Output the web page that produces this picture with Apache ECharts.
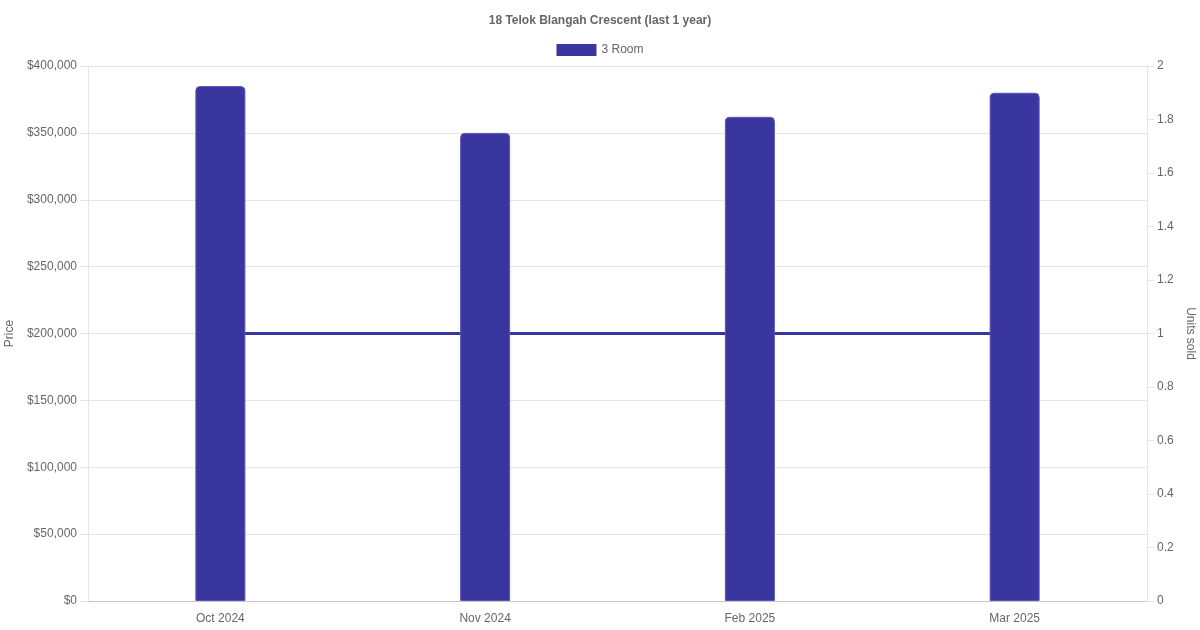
<!DOCTYPE html>
<html>
<head>
<meta charset="utf-8">
<script src="https://cdn.jsdelivr.net/npm/echarts@6/dist/echarts.min.js"></script>
<style>
  html, body { margin: 0; padding: 0; background: #fff; }
  #chart { width: 1200px; height: 630px; }
</style>
</head>
<body>
<div id="chart"></div>
<script>
const months = ['Oct 2024', 'Nov 2024', 'Feb 2025', 'Mar 2025'];
const prices = [385000, 350000, 362000, 380000];
const unitsSold = [1, 1, 1, 1];

const barColor = '#3a36a0';
const textColor = '#666';
const fontFamily = '"Liberation Sans", Arial, sans-serif';

const chart = echarts.init(document.getElementById('chart'), null, { renderer: 'canvas' });

let option = {
  animation: false,
  textStyle: { fontFamily: fontFamily },
  title: {
    text: '18 Telok Blangah Crescent (last 1 year)',
    left: 'center',
    top: 10,
    textStyle: { fontSize: 12, fontWeight: 'bold', color: textColor, fontFamily: fontFamily }
  },
  legend: {
    top: 39,
    left: 'center',
    itemWidth: 40,
    itemHeight: 12,
    itemGap: 10,
    textStyle: { fontSize: 12, color: textColor },
    itemStyle: { borderWidth: 0 },
    data: [{ name: '3 Room', icon: 'rect' }]
  },
  grid: { left: 88, right: 53, top: 66, bottom: 29, containLabel: false, outerBoundsMode: 'none' },
  xAxis: {
    type: 'category',
    data: months,
    axisLine: { show: true, lineStyle: { color: '#c8c8c8' } },
    axisTick: { show: false },
    axisLabel: { color: textColor, fontSize: 12, margin: 12 },
    splitLine: { show: false }
  },
  yAxis: [
    {
      type: 'value',
      name: 'Price',
      nameLocation: 'middle',
      nameGap: 72,
      nameRotate: 90,
      nameTextStyle: { color: textColor, fontSize: 12 },
      min: 0,
      max: 400000,
      interval: 50000,
      axisLine: { show: true, lineStyle: { color: '#e5e5e5' } },
      axisTick: { show: true, length: 8, lineStyle: { color: '#e5e5e5' } },
      axisLabel: {
        color: textColor,
        fontSize: 12,
        margin: 11,
        formatter: function (v) { return '$' + v.toLocaleString('en-US'); }
      },
      splitLine: { show: true, lineStyle: { color: '#e5e5e5' } }
    },
    {
      type: 'value',
      name: 'Units sold',
      nameLocation: 'middle',
      nameGap: 36,
      nameRotate: -90,
      nameTextStyle: { color: textColor, fontSize: 12 },
      min: 0,
      max: 2,
      interval: 0.2,
      axisLine: { show: true, lineStyle: { color: '#e5e5e5' } },
      axisTick: { show: true, length: 7, lineStyle: { color: '#e5e5e5' } },
      axisLabel: {
        color: textColor,
        fontSize: 12,
        margin: 10,
        formatter: function (v) { return String(Math.round(v * 10) / 10); }
      },
      splitLine: { show: false }
    }
  ],
  series: [
    {
      name: '3 Room',
      type: 'bar',
      yAxisIndex: 0,
      data: prices,
      barWidth: 50,
      z: 3,
      itemStyle: {
        color: barColor,
        borderColor: '#5a56b8',
        borderWidth: 1,
        borderRadius: [4, 4, 0, 0]
      }
    },
    {
      name: 'Units sold',
      type: 'line',
      yAxisIndex: 1,
      data: unitsSold,
      z: 1,
      showSymbol: false,
      symbol: 'none',
      lineStyle: { color: barColor, width: 3 },
      itemStyle: { color: barColor }
    }
  ]
};

window.addEventListener('resize', function () {
  chart.resize();
});

option && chart.setOption(option);
</script>
</body>
</html>
